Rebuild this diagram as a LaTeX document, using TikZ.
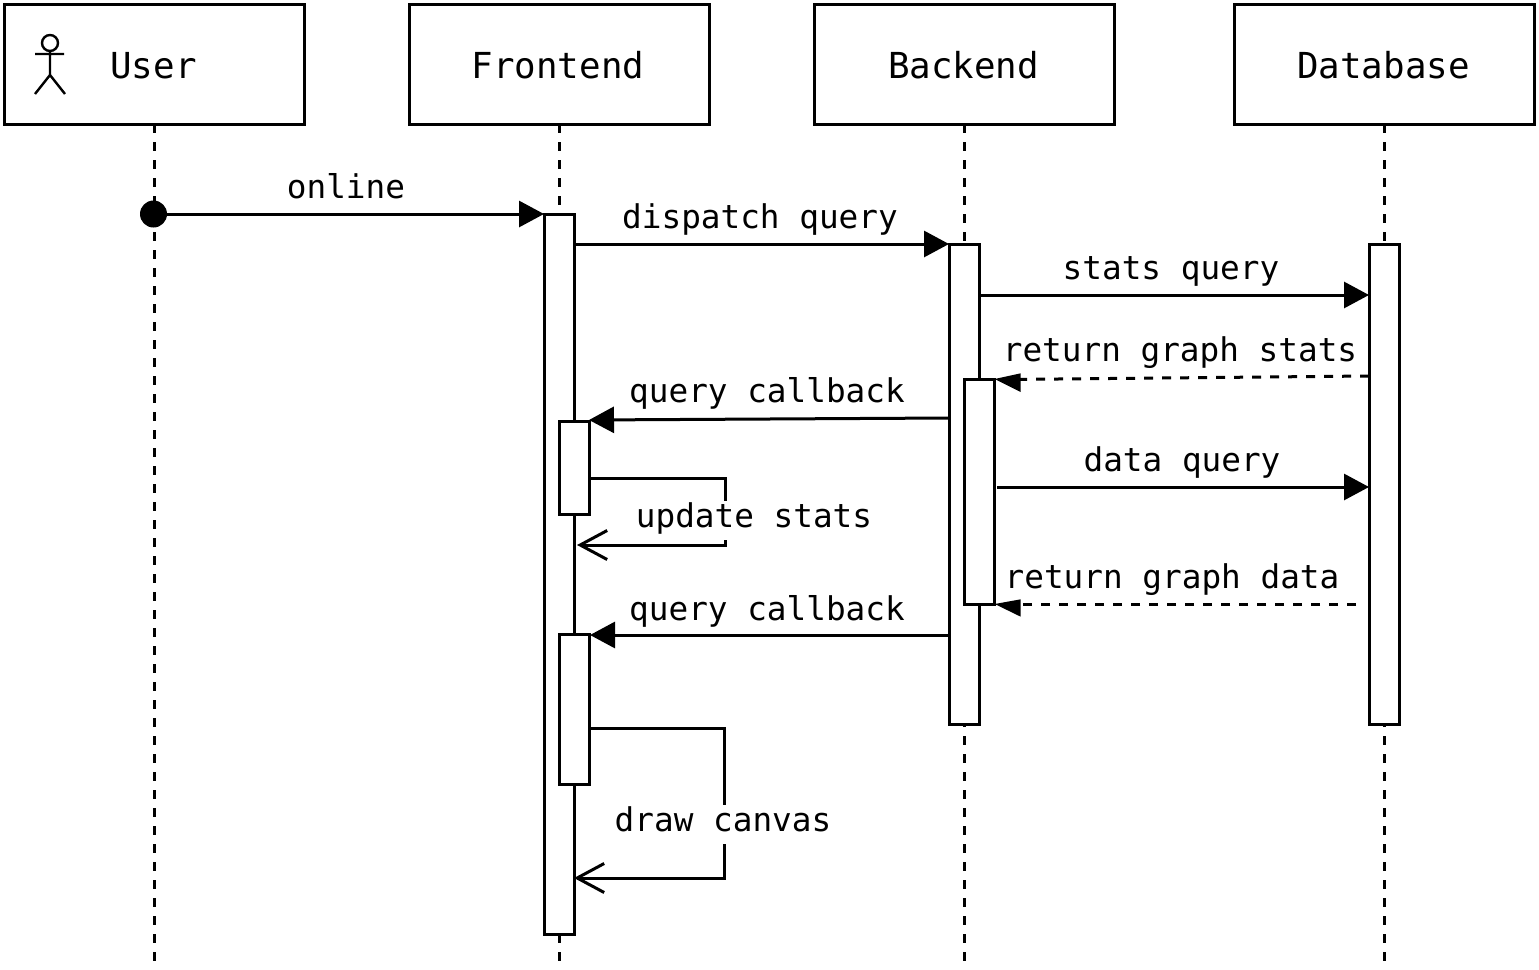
\documentclass[tikz,border=0pt]{standalone}
\usepackage{fontspec}
\setmonofont{DejaVu Sans Mono}
\usetikzlibrary{arrows.meta}
\tikzset{
  x=1pt,y=-1pt,
  every node/.style={font=\ttfamily\fontsize{32.7}{36}\selectfont,text=black},
  head/.style={draw=black,line width=3pt,fill=white,minimum width=300pt,minimum height=120pt,inner sep=0pt,outer sep=0pt},
  headtext/.style={anchor=base,inner sep=0pt,outer sep=0pt,font=\ttfamily\fontsize{35.8}{40}\selectfont},
  act/.style={draw=black,line width=3pt,fill=white,minimum width=30pt,inner sep=0pt,outer sep=0pt},
  life/.style={draw=black,line width=3pt,dash pattern=on 9pt off 9pt},
  msg/.style={draw=black,line width=3pt,-{Triangle[length=25pt,width=26pt]}},
  ret/.style={draw=black,line width=3pt,dash pattern=on 9pt off 9pt},
  rethead/.style={fill=black,draw=none},
  self/.style={draw=black,line width=3pt,-{Straight Barb[length=27pt,width=29pt,line width=3pt]}},
  lbl/.style={anchor=base,inner sep=0pt,outer sep=0pt},
  lblbg/.style={lbl,fill=white,text height=26pt,text depth=13pt},
  actorline/.style={draw=black,line width=2.4pt}
}
\begin{document}
\begin{tikzpicture}
\useasboundingbox (0,0) rectangle (1539,969);
\fill[white] (0,0) rectangle (1539,969);
% participants
\node[head] (user) at (154,64) {};
\node[head] (front) at (559,64) {};
\node[head] (back) at (964,64) {};
\node[head] (db) at (1384,64) {};
\node[headtext] (userT) at (153.5,78) {User};
\node[headtext] (frontT) at (558,78) {Frontend};
\node[headtext] (backT) at (963.5,78) {Backend};
\node[headtext] (dbT) at (1383.5,78) {Database};
% actor figure
\draw[actorline] (50,43) circle (8pt);
\draw[actorline] (50,51) -- (50,75) (35,54) -- (64,54) (35,94) -- (50,75) -- (65,94);
% lifelines
\coordinate (userEnd) at (154,962);
\coordinate (frontEnd) at (559,962);
\coordinate (backEnd) at (964,962);
\coordinate (dbEnd) at (1384,962);
\draw[life] (user.south) -- (userEnd);
\draw[life] (front.south) -- (frontEnd);
\draw[life] (back.south) -- (backEnd);
\draw[life] (db.south) -- (dbEnd);
% activations
\node[act,minimum height=720pt] (fa) at (559,574) {};
\node[act,minimum height=93pt] (fb) at (574,467.5) {};
\node[act,minimum height=150pt] (fc) at (574,709) {};
\node[act,minimum height=480pt] (ba) at (964,484) {};
\node[act,minimum height=225pt] (bb) at (979,491.5) {};
\node[act,minimum height=480pt] (da) at (1384,484) {};
\node[circle,fill=black,minimum size=27pt,inner sep=0pt,outer sep=0pt] (dot) at (153.5,214) {};
% messages
\draw[msg] (dot.east) -- (fa.north west);
\draw[msg] ([yshift=-30pt]fa.north east) -- (ba.north west);
\draw[msg] ([yshift=-51pt]ba.north east) -- ([yshift=-51pt]da.north west);
\draw[ret] ([yshift=-132pt]da.north west) -- ([xshift=12pt,yshift=-0.5pt]bb.north east);
\fill[rethead] ([xshift=0.7pt]bb.north east) -- ([xshift=26.7pt,yshift=5.7pt]bb.north east) -- ([xshift=26.7pt,yshift=-13pt]bb.north east) -- cycle;
\draw[msg] ([yshift=-174pt]ba.north west) -- ([yshift=1pt]fb.north east);
\draw[msg] ([xshift=3pt,yshift=-108pt]bb.north east) -- ([yshift=-243pt]da.north west);
\draw[ret] ([xshift=-13pt,yshift=-360pt]da.north west) -- ([xshift=12pt]bb.south east);
\fill[rethead] ([xshift=0.7pt]bb.south east) -- ([xshift=26.7pt,yshift=4.7pt]bb.south east) -- ([xshift=26.7pt,yshift=-12.7pt]bb.south east) -- cycle;
\draw[msg] ([yshift=-391pt]ba.north west) -- ([xshift=1pt,yshift=-1pt]fc.north east);
\coordinate (c1) at (725,478);
\coordinate (c2) at (725,545);
\coordinate (e1) at (577,545);
\draw[self] ([yshift=-57pt]fb.north east) -- (c1) -- (c2) -- (e1);
\coordinate (c3) at (724,728);
\coordinate (c4) at (724,878);
\coordinate (e2) at (574,878);
\draw[self] ([yshift=-94pt]fc.north east) -- (c3) -- (c4) -- (e2);
% labels
\node[lbl] (l1) at (346,198) {online};
\node[lbl] (l2) at (760,228) {dispatch query};
\node[lbl] (l3) at (1171,279) {stats query};
\node[lbl] (l4) at (1180,361) {return graph stats};
\node[lbl] (l5) at (767,402) {query callback};
\node[lbl] (l6) at (1182,471) {data query};
\node[lblbg] (l7) at (754,527) {update stats};
\node[lbl] (l8) at (1172,588) {return graph data};
\node[lbl] (l9) at (767,620) {query callback};
\node[lblbg] (l10) at (723,831) {draw canvas};
\end{tikzpicture}
\end{document}
